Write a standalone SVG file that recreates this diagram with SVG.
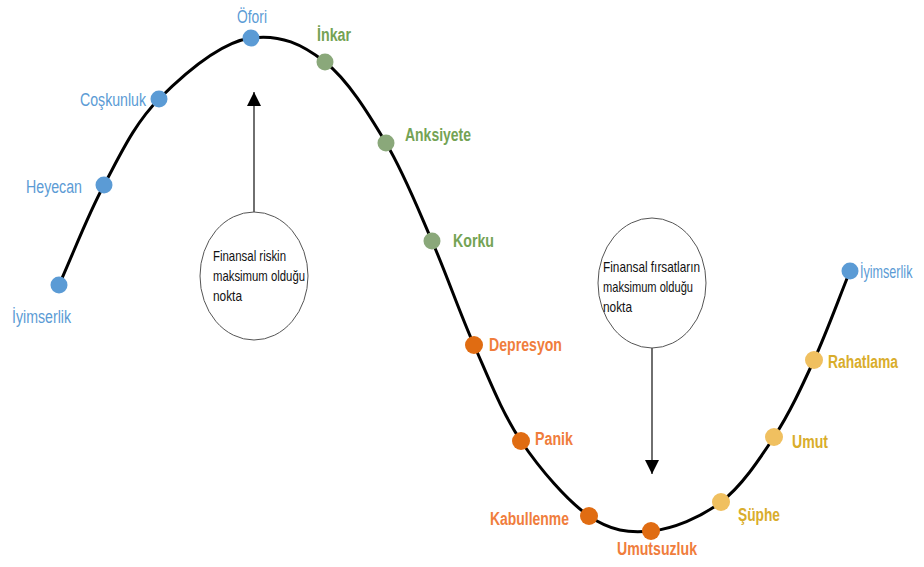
<svg xmlns="http://www.w3.org/2000/svg" width="924" height="567" viewBox="0 0 924 567">
<defs>
<style>
.lbl{font-family:"Liberation Sans Narrow","Liberation Sans",Arial,sans-serif;font-size:18px}
.b{fill:#5b9bd5}
.g{fill:#74a354;font-weight:bold}
.o{fill:#f07d3c;font-weight:bold}
.y{fill:#d9ad2b;font-weight:bold}
.db{fill:#5b9bd5}.dg{fill:#8aa87a}.do{fill:#e06c12}.dy{fill:#f0c060}
.note{font-family:"Liberation Sans Narrow","Liberation Sans",Arial,sans-serif;font-size:15px;fill:#111}
.ell{fill:#fff;stroke:#555;stroke-width:1}
</style>
<marker id="ah" viewBox="0 0 10 10" refX="10" refY="5" markerWidth="14" markerHeight="14" markerUnits="userSpaceOnUse" orient="auto">
<path d="M0,0 L10,5 L0,10 z" fill="#000"/>
</marker>
</defs>
<rect width="924" height="567" fill="#fff"/>
<g id="connectors">
<path d="M59,285 C74,251.7 87.3,216 104,185 C120.7,154 134.5,123.5 159,99 C183.5,74.5 221,42 251,38 C281,34 302.5,44.5 325,62 C347.5,79.5 368.2,113.2 386,143 C403.8,172.8 417.3,207.3 432,241 C446.7,274.7 459.2,311.7 474,345 C488.8,378.3 501.8,412.5 521,441 C540.2,469.5 567.3,501 589,516 C610.7,531 629,533.3 651,531 C673,528.7 700.5,517.7 721,502 C741.5,486.3 758.5,460.7 774,437 C789.5,413.3 801.3,387.7 814,360 C826.7,332.3 838,300.7 850,271" fill="none" stroke="#000" stroke-width="3"/>
<line x1="254" y1="212" x2="254" y2="92" stroke="#222" stroke-width="1.3" marker-end="url(#ah)"/>
<line x1="652" y1="348" x2="652" y2="474" stroke="#222" stroke-width="1.3" marker-end="url(#ah)"/>
</g>
<g id="note-risk">
<ellipse class="ell" cx="254" cy="276" rx="54" ry="64"/>
<text class="note" x="213" y="261" textLength="73" lengthAdjust="spacingAndGlyphs">Finansal riskin</text>
<text class="note" x="213" y="281" textLength="92" lengthAdjust="spacingAndGlyphs">maksimum olduğu</text>
<text class="note" x="213" y="301" textLength="29" lengthAdjust="spacingAndGlyphs">nokta</text>
</g>
<g id="note-opportunity">
<ellipse class="ell" cx="652" cy="283" rx="54" ry="65"/>
<text class="note" x="603" y="272" textLength="97" lengthAdjust="spacingAndGlyphs">Finansal fırsatların</text>
<text class="note" x="603" y="292" textLength="90" lengthAdjust="spacingAndGlyphs">maksimum olduğu</text>
<text class="note" x="603" y="312" textLength="29" lengthAdjust="spacingAndGlyphs">nokta</text>
</g>
<g id="iyimserlik1"><circle class="db" cx="59" cy="285" r="8.5"/><text class="lbl b" x="12" y="323" textLength="59" lengthAdjust="spacingAndGlyphs">İyimserlik</text></g>
<g id="heyecan"><circle class="db" cx="104" cy="185" r="8.5"/><text class="lbl b" x="26" y="193" textLength="56" lengthAdjust="spacingAndGlyphs">Heyecan</text></g>
<g id="coskunluk"><circle class="db" cx="159" cy="99" r="8.5"/><text class="lbl b" x="80" y="106" textLength="66" lengthAdjust="spacingAndGlyphs">Coşkunluk</text></g>
<g id="ofori"><circle class="db" cx="251" cy="38" r="8.5"/><text class="lbl b" x="237" y="23" textLength="30" lengthAdjust="spacingAndGlyphs">Öfori</text></g>
<g id="inkar"><circle class="dg" cx="325" cy="62" r="8.5"/><text class="lbl g" x="317" y="41" textLength="34" lengthAdjust="spacingAndGlyphs">İnkar</text></g>
<g id="anksiyete"><circle class="dg" cx="386" cy="143" r="8.5"/><text class="lbl g" x="405" y="141" textLength="66" lengthAdjust="spacingAndGlyphs">Anksiyete</text></g>
<g id="korku"><circle class="dg" cx="432" cy="241" r="8.5"/><text class="lbl g" x="453" y="247" textLength="41" lengthAdjust="spacingAndGlyphs">Korku</text></g>
<g id="depresyon"><circle class="do" cx="474" cy="345" r="9"/><text class="lbl o" x="489" y="351" textLength="73" lengthAdjust="spacingAndGlyphs">Depresyon</text></g>
<g id="panik"><circle class="do" cx="521" cy="441" r="9"/><text class="lbl o" x="535" y="445" textLength="38" lengthAdjust="spacingAndGlyphs">Panik</text></g>
<g id="kabullenme"><circle class="do" cx="589" cy="516" r="9"/><text class="lbl o" x="490" y="525" textLength="79" lengthAdjust="spacingAndGlyphs">Kabullenme</text></g>
<g id="umutsuzluk"><circle class="do" cx="651" cy="531" r="9"/><text class="lbl o" x="617" y="555" textLength="80" lengthAdjust="spacingAndGlyphs">Umutsuzluk</text></g>
<g id="suphe"><circle class="dy" cx="721" cy="502" r="9"/><text class="lbl y" x="738" y="521" textLength="42" lengthAdjust="spacingAndGlyphs">Şüphe</text></g>
<g id="umut"><circle class="dy" cx="774" cy="437" r="9"/><text class="lbl y" x="792" y="448" textLength="36" lengthAdjust="spacingAndGlyphs">Umut</text></g>
<g id="rahatlama"><circle class="dy" cx="814" cy="360" r="9"/><text class="lbl y" x="828" y="368" textLength="70" lengthAdjust="spacingAndGlyphs">Rahatlama</text></g>
<g id="iyimserlik2"><circle class="db" cx="850" cy="271" r="8.5"/><text class="lbl b" transform="translate(860,278) scale(0.7,1)" x="0" y="0">İyimserlik</text></g>
</svg>
